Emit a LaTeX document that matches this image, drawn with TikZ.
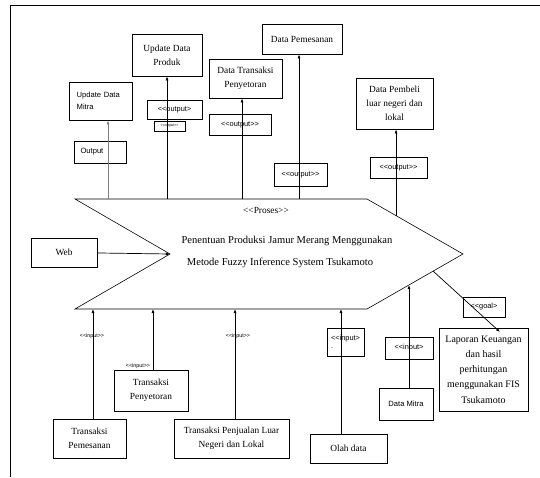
\documentclass[tikz,border=0pt]{standalone}
\usepackage{fontspec}
\setmainfont{Liberation Serif}
\newfontfamily\arialfont{Liberation Sans}
\usetikzlibrary{arrows.meta,positioning}

\newcommand{\ltlt}{\textless\kern0pt\textless}
\newcommand{\gtgt}{\textgreater\kern0pt\textgreater}

\begin{document}
\begin{tikzpicture}[
		x=0.03cm,y=-0.03cm,
		>={Latex[length=3.5pt,width=2.6pt]},
		every node/.style={font=\fontsize{8}{10}\selectfont, inner sep=1pt},
		kotak/.style={draw, line width=0.6pt, align=center},
		stereo/.style={draw, line width=0.5pt, font=\arialfont\fontsize{6.3}{7}\selectfont},
		label/.style={font=\arialfont\fontsize{4.6}{5}\selectfont},
		garis/.style={line width=0.6pt}
		]
		\useasboundingbox (0,0) rectangle (540,477);
		
		% =========================
		% frame of the page
		% =========================
		\draw[line width=0.8pt] (10,477) -- (10,5) -- (540,5);
		
		% =========================
		% Middle: the process arrow
		% =========================
		\draw[line width=0.5pt] (75,199) -- (367,199) -- (463,254) -- (367,309) -- (75,309) -- (170,254) -- cycle;
		\coordinate (notch) at (170,254);
		
		\node at (266,210) {\ltlt Proses\gtgt};
		\node[font=\fontsize{9}{10}\selectfont] at (287,241) {Penentuan Produksi Jamur Merang Menggunakan};
		\node[font=\fontsize{9}{10}\selectfont] at (280,263) {Metode Fuzzy Inference System Tsukamoto};
		
		% points on the edge of the process
		\coordinate (pm) at (108,199);
		\coordinate (pp) at (167,199);
		\coordinate (ps) at (242,199);
		\coordinate (pe) at (299,199);
		\coordinate (pb) at (396,215.6);
		\coordinate (q1) at (93,309);
		\coordinate (q2) at (153,309);
		\coordinate (q3) at (235,309);
		\coordinate (q4) at (341,309);
		\coordinate (q5) at (409,285);
		\coordinate (g0) at (433,271);
		\coordinate (g1) at (500,332);
		
		% =========================
		% Top: outputs
		% =========================
		\node[kotak, font=\arialfont\fontsize{6.5}{10}\selectfont, align=left, inner xsep=6pt, text width=1.46cm, minimum height=1.14cm] (mitra) at (101,101) {Update Data\\Mitra};
		\node[kotak, font=\arialfont\fontsize{6.5}{8}\selectfont, align=left, inner xsep=5pt, text width=1.2cm, minimum height=0.66cm] (outlbl) at (100.5,152) {Output};
		
		\node[kotak, minimum width=2.1cm, minimum height=1.26cm, font=\fontsize{8}{12}\selectfont] (produk) at (167,55) {Update Data\\Produk};
		\node[stereo, minimum width=1.65cm, minimum height=0.57cm] (out1) at (174.5,109.5) {\ltlt output\textgreater};
		\node[stereo, font=\arialfont\fontsize{3}{3}\selectfont, minimum width=0.93cm, minimum height=0.3cm] (out1b) at (169.5,126) {\ltlt output\gtgt};
		
		\node[kotak, minimum width=2.19cm, minimum height=1.17cm, font=\fontsize{8}{12}\selectfont] (setor) at (245.5,78.5) {Data Transaksi\\Penyetoran};
		\node[stereo, minimum width=1.86cm, minimum height=0.63cm] (out2) at (240,124.5) {\ltlt output\gtgt};
		
		\node[kotak, minimum width=2.4cm, minimum height=0.9cm] (pesan) at (302,39) {Data Pemesanan};
		\node[stereo, minimum width=1.59cm, minimum height=0.69cm] (out3) at (300.5,174.5) {\ltlt output\gtgt};
		
		\node[kotak, minimum width=2.31cm, minimum height=1.53cm, font=\fontsize{8}{12}\selectfont] (pembeli) at (394.5,103.5) {Data Pembeli\\luar negeri dan\\lokal};
		\node[stereo, minimum width=1.71cm, minimum height=0.63cm] (out4) at (398.5,167.5) {\ltlt output\gtgt};
		
		\draw[->, garis, gray] (pm) -- (pm |- mitra.south);
		\draw[->, garis] (pp) -- (pp |- produk.south);
		\draw[->, garis] (ps) -- (ps |- setor.south);
		\draw[->, garis] (pe) -- (pe |- pesan.south);
		\draw[->, garis] (pb) -- (pb |- pembeli.south);
		
		% =========================
		% Left: web
		% =========================
		\node[kotak, minimum width=1.98cm, minimum height=0.87cm] (web) at (64,252.5) {Web};
		\draw[->, garis] (web) -- (notch);
		
		% =========================
		% Bottom: inputs
		% =========================
		\node[kotak, minimum width=2.19cm, minimum height=1.17cm, font=\fontsize{8}{12}\selectfont] (pemesanan) at (89.5,438.5) {Transaksi\\Pemesanan};
		\node[kotak, minimum width=2.22cm, minimum height=1.23cm, font=\fontsize{8}{12}\selectfont] (penyetoran) at (151,390.5) {Transaksi\\Penyetoran};
		\node[kotak, minimum width=3.45cm, minimum height=1.17cm, font=\fontsize{8}{12}\selectfont] (penjualan) at (231.5,438.5) {Transaksi Penjualan Luar\\Negeri dan Lokal};
		\node[kotak, minimum width=2.31cm, minimum height=0.87cm] (olah) at (348.5,448.5) {Olah data};
		\node[kotak, font=\arialfont\fontsize{6.5}{8}\selectfont, minimum width=1.62cm, minimum height=0.96cm] (datamitra) at (406,404) {Data Mitra};
		
		\node[stereo, align=left, minimum width=1.11cm, minimum height=0.84cm] (in5) at (345.5,342) {\ltlt input\textgreater\\.};
		\node[stereo, minimum width=1.44cm, minimum height=0.66cm] (in6) at (409,348) {\ltlt input\textgreater};
		
		\node[label] (lbl1) at (92,336) {\ltlt input\gtgt};
		\node[label] (lbl2) at (138,366) {\ltlt input\gtgt};
		\node[label] (lbl3) at (238,336) {\ltlt input\gtgt};
		
		\draw[->, garis] (q1 |- pemesanan.north) -- (q1);
		\draw[->, garis] (q2 |- penyetoran.north) -- (q2);
		\draw[->, garis] (q3 |- penjualan.north) -- (q3);
		\draw[->, garis] (q4 |- olah.north) -- (q4);
		\draw[->, garis] (q5 |- datamitra.north) -- (q5);
		
		% =========================
		% Right: goal
		% =========================
		\node[kotak, minimum width=2.67cm, minimum height=2.49cm, font=\fontsize{8.5}{13}\selectfont] (laporan) at (483.5,369.5) {Laporan Keuangan\\dan hasil\\perhitungan\\menggunakan FIS\\Tsukamoto};
		\node[stereo, minimum width=1.26cm, minimum height=0.6cm] (goal) at (484,307) {\ltlt goal\textgreater};
		\draw[->, garis] (g0) -- (g1);
		
	\end{tikzpicture}
\end{document}
